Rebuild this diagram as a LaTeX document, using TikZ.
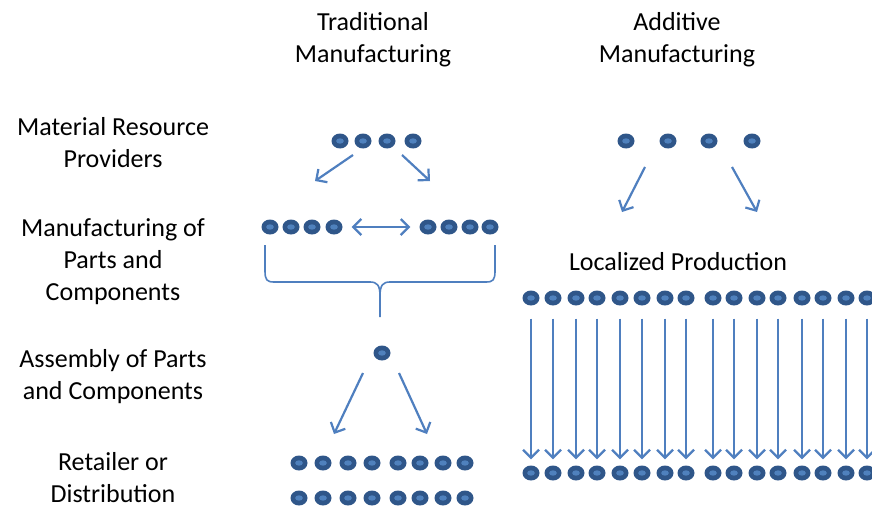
\documentclass[tikz,border=0pt]{standalone}
\usepackage{fontspec}
\setmainfont{Carlito}
\usetikzlibrary{arrows.meta,shapes.geometric}
\definecolor{dotdark}{HTML}{2F5689}
\definecolor{dotlight}{HTML}{4F81BD}
\definecolor{arrowblue}{HTML}{4F7FBF}
\def\tmtoplist{{(340,141)/a1}, {(363,141)/a2}, {(387,141)/a3}, {(413,141)/a4}}
\def\tmmidlist{{(270,227)/m1}, {(291,227)/m2}, {(312,227)/m3}, {(334,227)/m4}, {(428,227)/m5}, {(449,227)/m6}, {(470,227)/m7}, {(490,227)/m8}}
\def\amtoplist{{(626,141)/b1}, {(668,141)/b2}, {(709,141)/b3}, {(752,141)/b4}}
\def\retailx{299,323,348,372,398,420,443,465}
\def\localx{531,553,576,597,620,642,665,686,713,734,757,778,802,823,846,867}
\tikzstyle{dot}=[ellipse,fill=dotdark,minimum width=17pt,minimum height=15pt,inner sep=0pt,
  path picture={\fill[dotlight] (path picture bounding box.center) ellipse (3.8pt and 2.7pt);}]
\tikzstyle{label}=[align=center,font=\fontsize{26}{32}\selectfont]
\tikzstyle{arrow}=[draw,line width=2.2pt,arrowblue,-{Straight Barb[length=8pt,width=16pt]}]
\tikzstyle{twoway}=[draw,line width=2.2pt,arrowblue,{Straight Barb[length=8pt,width=16pt]}-{Straight Barb[length=8pt,width=16pt]}]
\tikzstyle{brace}=[draw,line width=1.6pt,arrowblue]

\begin{document}
\begin{tikzpicture}[x=1pt,y=-1pt]
  \useasboundingbox (0,0) rectangle (872,508);

  % Row and column labels
  \node[label] (tm) at (373,40) {Traditional\\Manufacturing};
  \node[label] (am) at (677,40) {Additive\\Manufacturing};
  \node[label] (mrp) at (113,143) {Material Resource\\Providers};
  \node[label] (mpc) at (113,262) {Manufacturing of\\Parts and\\Components};
  \node[label] (apc) at (113,377) {Assembly of Parts\\and Components};
  \node[label,inner sep=1pt] (rod) at (113,478) {Retailer or\\Distribution};
  \node[label] (loc) at (678,262) {Localized Production};

  % Traditional manufacturing dots
  \foreach \pos/\name in \tmtoplist
    \node[dot] (\name) at \pos {};
  \foreach \pos/\name in \tmmidlist
    \node[dot] (\name) at \pos {};
  \node[dot] (asm) at (382,353) {};
  \foreach \x [count=\i] in \retailx {
    \node[dot] (r\i) at (\x,463) {};
    \node[dot] (s\i) at (\x,498) {};
  }

  % Additive manufacturing dots
  \foreach \pos/\name in \amtoplist
    \node[dot] (\name) at \pos {};
  \foreach \x [count=\i] in \localx {
    \node[dot] (u\i) at (\x,298) {};
    \node[dot] (l\i) at (\x,473) {};
  }

  % Free arrow ends
  \coordinate (tl-s) at (353,155);
  \coordinate (tl-e) at (315,181);
  \coordinate (tr-s) at (402,155);
  \coordinate (tr-e) at (430,181);
  \coordinate (al-s) at (363,373);
  \coordinate (al-e) at (334,434);
  \coordinate (ar-s) at (399,373);
  \coordinate (ar-e) at (427,434);
  \coordinate (bl-s) at (645,167);
  \coordinate (bl-e) at (622,212);
  \coordinate (br-s) at (732,167);
  \coordinate (br-e) at (757,212);

  % Arrows
  \path[arrow] (tl-s) -- (tl-e);
  \path[arrow] (tr-s) -- (tr-e);
  \path[twoway,shorten <=9pt,shorten >=9pt] (m4) -- (m5);
  \path[arrow] (al-s) -- (al-e);
  \path[arrow] (ar-s) -- (ar-e);
  \path[arrow] (bl-s) -- (bl-e);
  \path[arrow] (br-s) -- (br-e);
  \foreach \i in {1,...,16}
    \path[arrow,shorten <=13pt,shorten >=6pt] (u\i) -- (l\i);

  % Brace under the parts row
  \path[brace] (265,245) -- (265,271) .. controls (265,280) and (267,282) .. (274,282)
    -- (370,282) .. controls (377,282) and (380,285) .. (380,296) -- (380,317);
  \path[brace] (380,296) .. controls (380,285) and (383,282) .. (390,282)
    -- (486,282) .. controls (493,282) and (495,280) .. (495,271) -- (495,245);
\end{tikzpicture}
\end{document}
